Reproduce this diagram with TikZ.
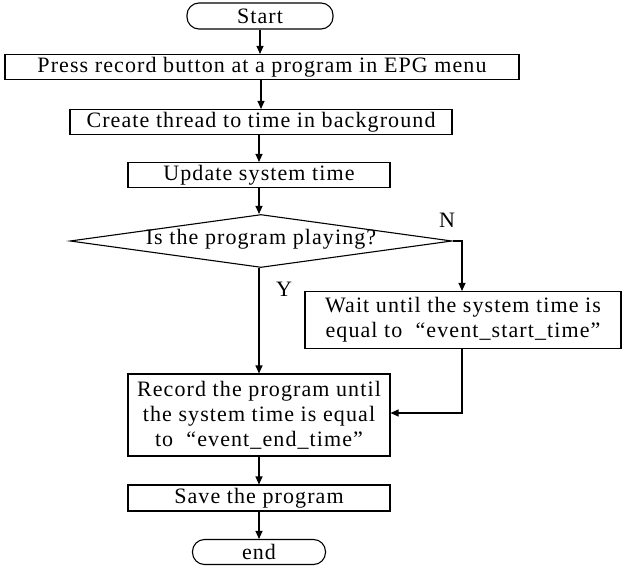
\documentclass[tikz,border=0pt]{standalone}
\usepackage{fontspec}
\setmainfont{Liberation Serif}[LetterSpace=5]
\usetikzlibrary{shapes.geometric,arrows.meta}
\begin{document}
\begin{tikzpicture}[x=1pt,y=-1pt,font=\fontsize{22}{25}\selectfont,
  box/.style={draw,line width=1.1pt,inner sep=0pt,align=center},
  term/.style={box,rounded corners=12pt},
  arr/.style={draw,line width=1.1pt,-{Triangle[length=8pt,width=7pt]}}]
\useasboundingbox (0,0) rectangle (622,567);
\node[term,minimum width=146,minimum height=26] (s) at (260,16) {Start};
\node[box,minimum width=514,minimum height=25] (p) at (262,67) {Press record button at a program in EPG menu};
\node[box,minimum width=382,minimum height=25] (c) at (261,122) {Create thread to time in background};
\node[box,minimum width=262,minimum height=25] (u) at (259,175) {Update system time};
\node[box,diamond,aspect=7.2,minimum width=382,minimum height=53] (d) at (261,241) {};
\node at (261,239) {Is the program playing?};
\node[box,minimum width=316,minimum height=57] (w) at (463,320) {Wait until the system time is\\equal to \ “event\_start\_time”};
\node[box,minimum width=262,minimum height=82] (r) at (259,415) {Record the program until\\the system time is equal\\to \ “event\_end\_time”};
\node[box,minimum width=262,minimum height=26] (sv) at (259,498) {Save the program};
\node[term,minimum width=133,minimum height=25] (e) at (259,552) {end};
\node (N) at (447,220) {N};
\node (Y) at (284,289) {Y};
\coordinate (k1) at (462,241);
\coordinate (k2) at (462,413);
\draw[arr] (s.south) -- (s.south|-p.north);
\draw[arr] (p.south-|c) -- (c.north);
\draw[arr] (c.south-|u) -- (u.north);
\draw[arr] (u.south) -- (u.south|-d.north);
\draw[arr] (d.south-|r) -- (r.north);
\draw[arr] (d.east) -- (k1) -- (k1|-w.north);
\draw[arr] (k1|-w.south) -- (k2) -- (k2-|r.east);
\draw[arr] (r.south) -- (sv.north);
\draw[arr] (sv.south) -- (e.north);
\end{tikzpicture}
\end{document}
